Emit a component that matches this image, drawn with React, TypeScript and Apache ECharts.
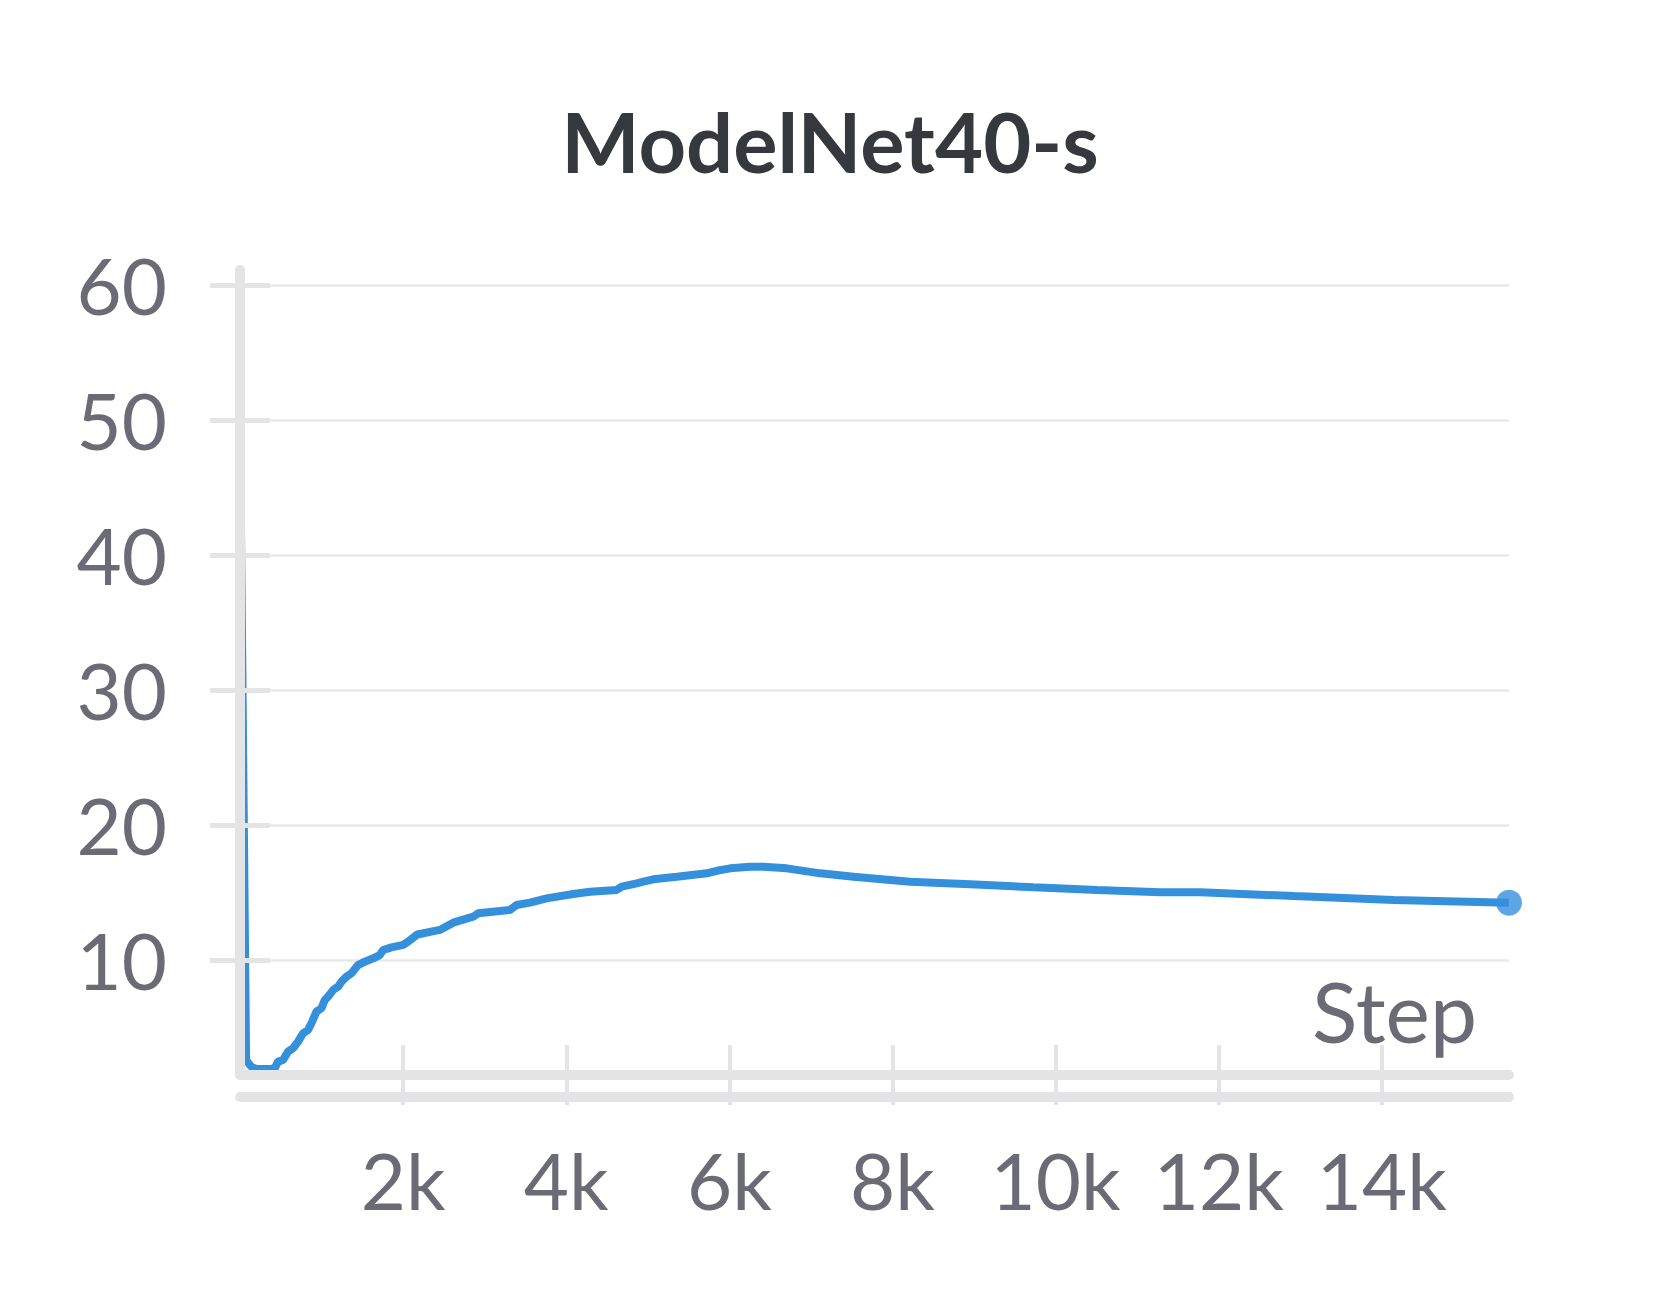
import React, { useEffect, useRef } from "react";
import * as echarts from "echarts";

const titleText = "ModelNet40-s";
const xName = "Step";
const steps = [
  0, 75, 140, 200, 385, 426, 466, 528, 589, 650, 712, 773, 834, 876, 937, 999, 1039, 1080, 1141, 1202,
  1244, 1306, 1367, 1448, 1530, 1632, 1714, 1755, 1858, 2000, 2061, 2174, 2450, 2614, 2859, 2920, 3309,
  3391, 3555, 3760, 4086, 4291, 4618, 4680, 4864, 4945, 5067, 5355, 5723, 5845, 6009, 6254, 6417, 6704,
  7113, 7522, 8217, 8953, 9731, 10508, 11284, 11775, 12920, 14147, 15558,
];
const values = [
  49.5, 2.6, 2.1, 1.95, 1.95, 2.0, 2.49, 2.61, 3.23, 3.48, 3.97, 4.59, 4.83, 5.33, 6.19, 6.44, 7.05, 7.3,
  7.79, 8.04, 8.41, 8.78, 9.03, 9.64, 9.89, 10.14, 10.38, 10.75, 10.95, 11.13, 11.37, 11.9, 12.24, 12.78,
  13.22, 13.47, 13.72, 14.09, 14.26, 14.58, 14.9, 15.07, 15.2, 15.44, 15.69, 15.81, 15.99, 16.18, 16.43,
  16.62, 16.8, 16.92, 16.92, 16.8, 16.43, 16.18, 15.81, 15.62, 15.4, 15.2, 15.03, 15.03, 14.75, 14.46, 14.26,
];
const xTicks = [2000, 4000, 6000, 8000, 10000, 12000, 14000];
const yTicks = [10, 20, 30, 40, 50, 60];
const xMin = 0;
const xMax = 15558;
const yMin = 1.5;
const yMax = 61.1;

const FONT = "Lato, 'Noto Sans', sans-serif";
const AXIS_GREY = "#e4e4e7";
const GRID_GREY = "#e8e8e8";
const LABEL_GREY = "#6b6b76";
const BLUE = "#3590dc";

export default function App() {
  const ref = useRef<HTMLDivElement>(null);
  useEffect(() => {
    document.body.style.margin = "0";
    const chart = echarts.init(ref.current!, null, { renderer: "svg" });
    const lineData = steps.map((s, i) => [s, values[i]]);
    const last = [[steps[steps.length - 1], values[values.length - 1]]];
    const xCommon = {
      type: "value" as const,
      min: xMin,
      max: xMax,
      splitLine: { show: false },
    };
    const yCommon = {
      type: "value" as const,
      min: yMin,
      max: yMax,
    };
    chart.setOption({
      animation: false,
      backgroundColor: "#ffffff",
      title: {
        text: titleText,
        left: "center",
        top: 94,
        textStyle: { fontFamily: FONT, fontSize: 83, fontWeight: "bold", color: "#35393e" },
      },
      grid: { left: 240, right: 151, top: 270, bottom: 235, containLabel: false },
      xAxis: [
        {
          ...xCommon,
          position: "bottom",
          z: 10,
          axisLine: { show: true, lineStyle: { color: AXIS_GREY, width: 10 } },
          axisTick: { show: true, inside: false, length: 30, customValues: xTicks, lineStyle: { color: AXIS_GREY, width: 4 } },
          axisLabel: {
            show: true,
            customValues: xTicks,
            margin: 66,
            formatter: (v: number) => v / 1000 + "k",
            color: LABEL_GREY,
            fontFamily: FONT,
            fontSize: 78,
          },
        },
        {
          ...xCommon,
          position: "bottom",
          offset: 22,
          z: 10,
          axisLine: { show: true, lineStyle: { color: AXIS_GREY, width: 10 } },
          axisTick: { show: true, inside: true, length: 52, customValues: xTicks, lineStyle: { color: AXIS_GREY, width: 4 } },
          axisLabel: { show: false },
        },
      ],
      yAxis: [
        {
          ...yCommon,
          position: "left",
          axisLine: { show: false },
          axisTick: { show: true, inside: false, length: 30, customValues: yTicks, lineStyle: { color: AXIS_GREY, width: 5 } },
          axisLabel: {
            show: true,
            customValues: yTicks,
            margin: 73,
            color: LABEL_GREY,
            fontFamily: FONT,
            fontSize: 78,
          },
          splitLine: { show: true, lineStyle: { color: GRID_GREY, width: 2.5 } },
        },
        {
          ...yCommon,
          position: "left",
          z: 10,
          axisLine: { show: true, lineStyle: { color: AXIS_GREY, width: 10 } },
          axisTick: { show: true, inside: true, length: 30, customValues: yTicks, lineStyle: { color: AXIS_GREY, width: 5 } },
          axisLabel: { show: false },
          splitLine: { show: false },
        },
      ],
      graphic: [
        {
          type: "text",
          right: 183,
          top: 968,
          z: 20,
          style: { text: xName, fill: LABEL_GREY, font: `84px ${FONT}` },
        },
      ],
      series: [
        {
          type: "line",
          xAxisIndex: 0,
          yAxisIndex: 0,
          data: lineData,
          showSymbol: false,
          symbol: "none",
          lineStyle: { color: BLUE, width: 8 },
          z: 5,
        },
        {
          type: "scatter",
          xAxisIndex: 0,
          yAxisIndex: 0,
          data: last,
          symbol: "circle",
          symbolSize: 26,
          itemStyle: { color: BLUE },
          z: 6,
        },
      ],
    });
    return () => chart.dispose();
  }, []);
  return <div ref={ref} style={{ width: 1660, height: 1310 }} />;
}
